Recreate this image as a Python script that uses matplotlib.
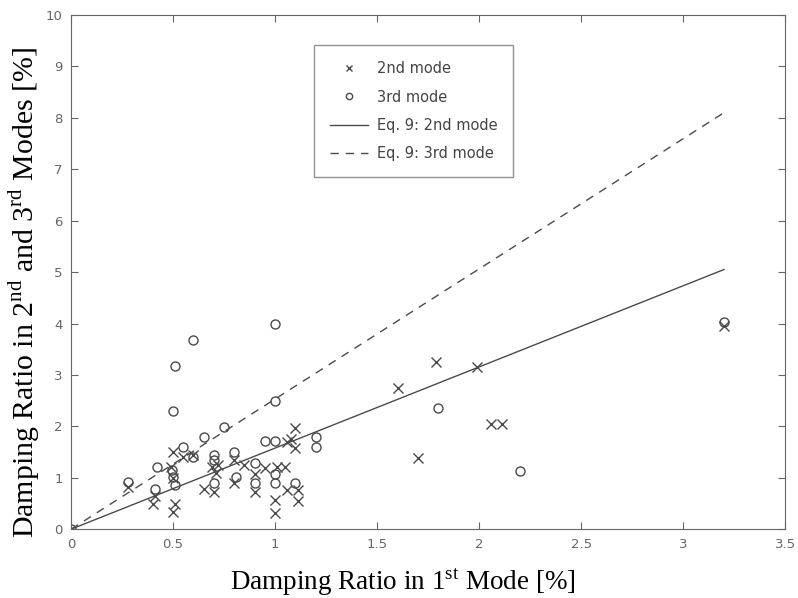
import numpy as np
import matplotlib
matplotlib.use("Agg")
import matplotlib.pyplot as plt

plt.rcParams['mathtext.fontset'] = 'custom'
plt.rcParams['mathtext.rm'] = 'Liberation Serif'

# 2nd mode measurements (x markers)
x2 = [0.28, 0.40, 0.41, 0.49, 0.50, 0.51, 0.50, 0.50, 0.55, 0.60, 0.65, 0.69, 0.70,
      0.71, 0.72, 0.80, 0.80, 0.85, 0.90, 0.90, 0.95, 1.00, 1.00, 1.01, 1.05, 1.06,
      1.06, 1.08, 1.10, 1.10, 1.11, 1.11, 1.60, 1.70, 1.79, 1.99, 2.06, 2.11, 3.20]
y2 = [0.83, 0.50, 0.65, 1.21, 1.50, 0.50, 0.34, 1.00, 1.40, 1.45, 0.79, 1.21, 0.73,
      1.10, 1.25, 1.34, 0.89, 1.25, 1.08, 0.73, 1.20, 0.32, 0.57, 1.21, 1.21, 0.76,
      1.70, 1.76, 1.97, 1.57, 0.76, 0.54, 2.75, 1.38, 3.25, 3.15, 2.05, 2.05, 3.95]

# 3rd mode measurements (o markers)
x3 = [0.00, 0.28, 0.41, 0.42, 0.495, 0.50, 0.51, 0.50, 0.51, 0.55, 0.60, 0.60, 0.65,
      0.70, 0.70, 0.70, 0.75, 0.80, 0.81, 0.90, 0.90, 0.95, 1.00, 1.00, 1.00, 1.00,
      1.00, 1.10, 1.20, 1.20, 1.80, 2.20, 3.20]
y3 = [0.00, 0.91, 0.79, 1.21, 1.15, 1.02, 0.86, 2.30, 3.18, 1.60, 3.68, 1.41, 1.79,
      1.44, 1.34, 0.89, 1.99, 1.50, 1.02, 1.28, 0.89, 1.72, 4.00, 2.50, 1.72, 1.08,
      0.89, 0.89, 1.79, 1.60, 2.35, 1.13, 4.02]

# Eq. 9 lines (end points)
eq_x = [0.0, 3.2]
eq2_y = [0.0, 5.05]
eq3_y = [0.0, 8.1]

col = '#4a4a4a'
fig = plt.figure(figsize=(7.98, 5.98), dpi=100)
ax = fig.add_axes([0.089, 0.115, 0.895, 0.86])

ax.plot(x2, y2, 'x', color=col, ms=6.5, mew=1.0, label='2nd mode')
ax.plot(x3, y3, 'o', color=col, mfc='none', ms=6.5, mew=1.0, label='3rd mode')
ax.plot(eq_x, eq2_y, '-', color=col, lw=1.0, label='Eq. 9: 2nd mode')
ax.plot(eq_x, eq3_y, '--', color=col, lw=1.0, dashes=(6, 5), label='Eq. 9: 3rd mode')

ax.set_xlim(0, 3.5)
ax.set_ylim(0, 10)
ax.set_xticks(np.arange(0, 3.51, 0.5))
ax.set_xticklabels(['0', '0.5', '1', '1.5', '2', '2.5', '3', '3.5'])
ax.set_yticks(range(0, 11))
ax.tick_params(direction='in', top=True, right=True, length=5, labelsize=9.5,
               labelcolor='#666666', color='#666666', pad=6)
for s in ax.spines.values():
    s.set_color('#666666')

ax.set_xlabel('Damping Ratio in 1$^{\\rm st}$ Mode [%]', family='Liberation Serif',
              fontsize=19.5)
ax.xaxis.set_label_coords(0.465, -0.072)
ax.set_ylabel('Damping Ratio in 2$^{\\rm nd}$ and 3$^{\\rm rd}$ Modes [%]',
              family='Liberation Serif', fontsize=21.5)
ax.yaxis.set_label_coords(-0.04, 0.46)

leg = ax.legend(loc='upper left', bbox_to_anchor=(0.33, 0.955), fontsize=10.5,
                frameon=True, fancybox=False, edgecolor='#777777', markerscale=0.7,
                borderpad=1.1, labelspacing=0.9, handlelength=2.6, handletextpad=0.6)
for t in leg.get_texts():
    t.set_color('#444444')

fig.savefig('out.png', dpi=100)
